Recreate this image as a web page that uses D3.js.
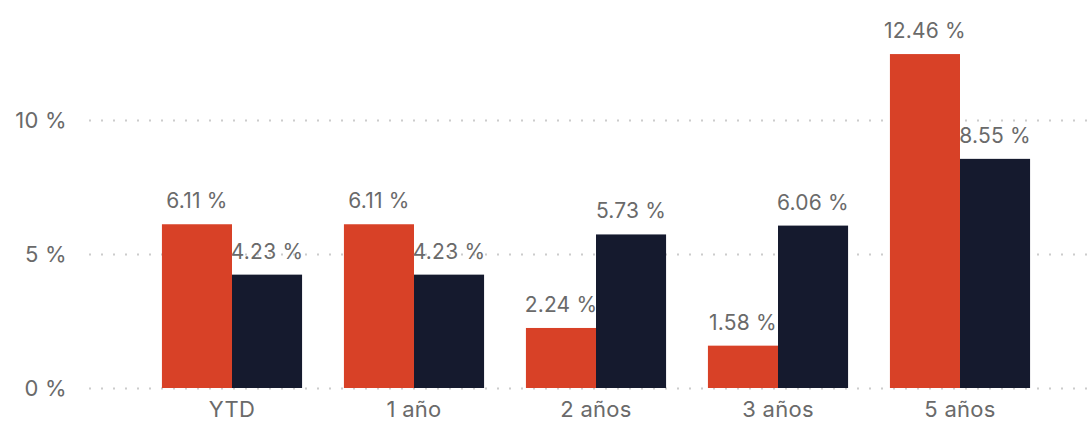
<!DOCTYPE html>
<html>
<head>
<meta charset="utf-8">
<script src="https://cdn.jsdelivr.net/npm/d3@7"></script>
<style>
  body { margin: 0; background: #fff; }
  svg text { font-family: Inter, 'Noto Sans', sans-serif; fill: #6a6a6a; }
</style>
</head>
<body>
<svg id="chart" width="1090" height="422"></svg>
<script>
const categories = ['YTD', '1 año', '2 años', '3 años', '5 años']
const fundValues = [6.11, 6.11, 2.24, 1.58, 12.46]
const benchValues = [4.23, 4.23, 5.73, 6.06, 8.55]
const yTicks = [0, 5, 10]

const fmt = v => `${v.toFixed(2)} %`

function chart () {
  const svg = d3.select('#chart')
  const x = d3.scaleBand().domain(categories).range([141, 1051]).paddingInner(0.23).paddingOuter(0.115)
  const sub = d3.scaleBand().domain(['fund', 'bench']).range([0, x.bandwidth()])
  const y = d3.scaleLinear().domain([0, 10]).range([388, 120])

  // dotted gridlines
  svg.append('g').selectAll('line').data(yTicks).join('line')
    .attr('x1', 89).attr('x2', 1090)
    .attr('y1', d => y(d) + 0.5).attr('y2', d => y(d) + 0.5)
    .attr('stroke', '#cccccc').attr('stroke-width', 2)
    .attr('stroke-dasharray', '2,10')

  const yAxis = svg.append('g').attr('transform', 'translate(67,0)')
    .call(d3.axisLeft(y).tickValues(yTicks).tickSize(0).tickPadding(0).tickFormat(d => `${d} %`))
  yAxis.select('.domain').remove()
  yAxis.selectAll('text').style('font-size', '22px').attr('fill', '#6a6a6a').attr('dy', '0.36em')
    .style('letter-spacing', '0.3px')

  const xAxis = svg.append('g').attr('transform', 'translate(0,388)')
    .call(d3.axisBottom(x).tickSize(0).tickPadding(0))
  xAxis.select('.domain').remove()
  xAxis.selectAll('text').style('font-size', '22px').attr('fill', '#6a6a6a').attr('dy', '29px')
    .style('letter-spacing', '0.3px')

  const rows = categories.map((c, i) => [
    { cat: c, key: 'fund', value: fundValues[i], color: '#d84127' },
    { cat: c, key: 'bench', value: benchValues[i], color: '#151a2e' }
  ]).flat()

  svg.append('g').selectAll('rect').data(rows).join('rect')
    .attr('x', d => x(d.cat) + sub(d.key))
    .attr('width', sub.bandwidth())
    .attr('y', d => y(d.value))
    .attr('height', d => y(0) - y(d.value))
    .attr('fill', d => d.color)

  svg.append('g').selectAll('text').data(rows).join('text')
    .attr('x', d => x(d.cat) + sub(d.key) + sub.bandwidth() / 2)
    .attr('y', d => y(d.value) - 16)
    .attr('text-anchor', 'middle')
    .style('font-size', '21px')
    .style('letter-spacing', '0.2px')
    .text(d => fmt(d.value))
}

chart()
</script>
</body>
</html>
